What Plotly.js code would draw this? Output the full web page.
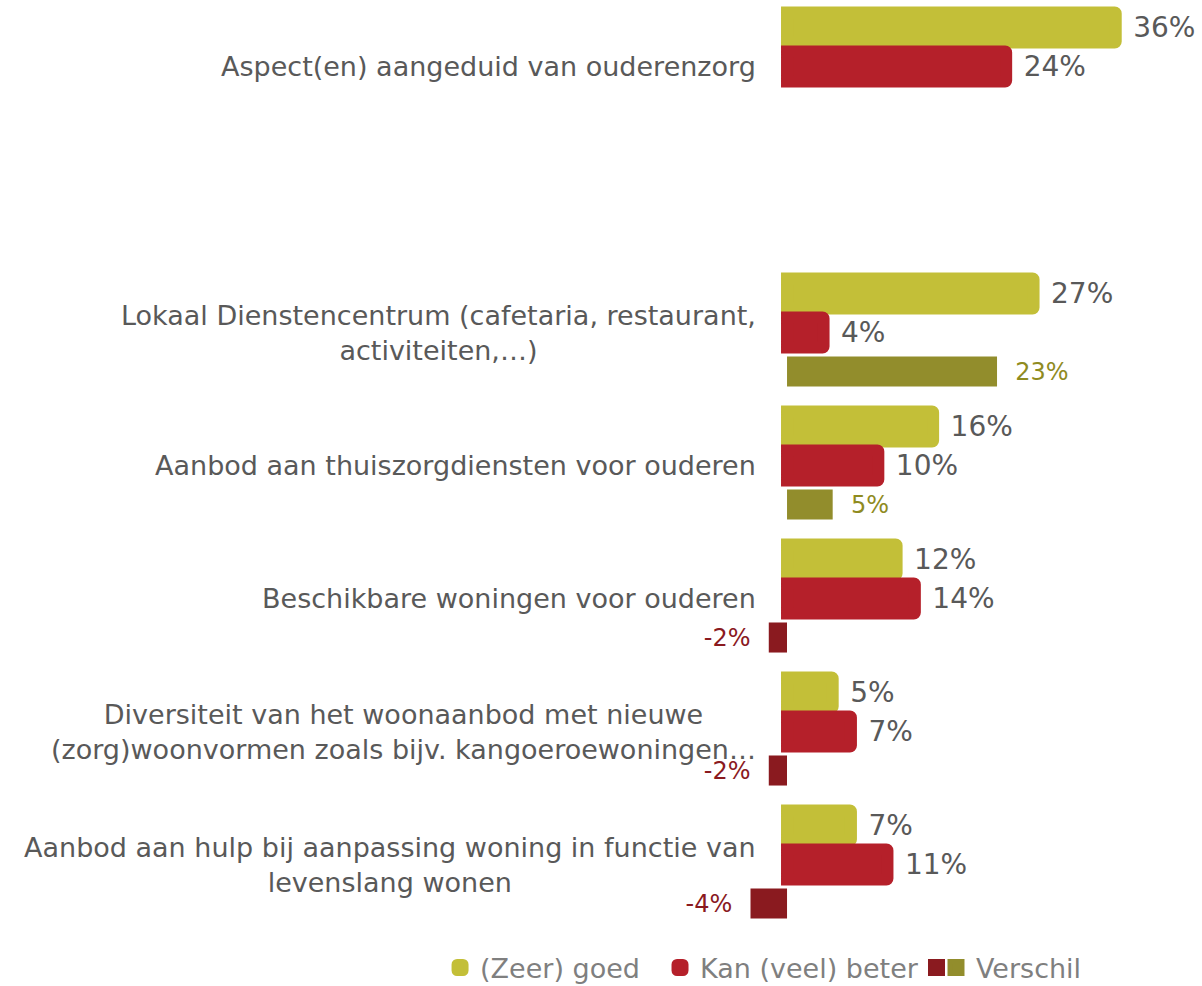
<!DOCTYPE html>
<html><head><meta charset="utf-8">
<script src="https://cdn.plot.ly/plotly-3.0.1.min.js"></script>
<style>html,body{margin:0;padding:0;background:#fff}</style>
</head><body><div id="chart" style="width:1202px;height:986px"></div>
<script>
// ---- data ----
const categories = [
  'Aspect(en) aangeduid van ouderenzorg',
  ' ',
  'Lokaal Dienstencentrum (cafetaria, restaurant,<br>activiteiten,…)',
  'Aanbod aan thuiszorgdiensten voor ouderen',
  'Beschikbare woningen voor ouderen',
  'Diversiteit van het woonaanbod met nieuwe<br>(zorg)woonvormen zoals bijv. kangoeroewoningen…',
  'Aanbod aan hulp bij aanpassing woning in functie van<br>levenslang wonen'
];
const goed     = [36, null, 27, 16, 12, 5, 7];
const beter    = [24, null, 4, 10, 14, 7, 11];
const verschil = [null, null, 23, 5, -2, -2, -4];
const seriesNames = ['(Zeer) goed', 'Kan (veel) beter', 'Verschil'];

// ---- styles ----
const C_GOED = '#C3BF38', C_BETER = '#B5202A', C_POS = '#928D2C', C_NEG = '#8A1A1F';
const T_POS = '#8F8B1F';
const LABEL = '#595959';
const NB = '\u00A0', THIN = '\u2009';
const FONT = '"DejaVu Sans", Verdana, sans-serif';

function txtRight(arr){ return arr.map(v => v == null ? '' : NB + THIN + v + '%'); }
function txtSigned(arr){ return arr.map(v => v == null ? '' : (v < 0 ? v + '%' + NB + NB : NB + NB + v + '%')); }
const isNeg = v => v != null && v < 0;

const traces = [
  {type:'bar', orientation:'h', name:seriesNames[0], y:categories, x:goed, legend:'legend',
   marker:{color:C_GOED, line:{color:C_GOED, width:12}, cornerradius:1},
   text:txtRight(goed), textposition:'outside', cliponaxis:false, constraintext:'none',
   textfont:{family:FONT, size:28, color:LABEL}, hoverinfo:'skip'},
  {type:'bar', orientation:'h', name:seriesNames[1], y:categories, x:beter, legend:'legend2',
   marker:{color:C_BETER, line:{color:C_BETER, width:12}, cornerradius:1},
   text:txtRight(beter), textposition:'outside', cliponaxis:false, constraintext:'none',
   textfont:{family:FONT, size:28, color:LABEL}, hoverinfo:'skip'},
  {type:'bar', orientation:'h', name:' ', x:[null], y:[null], xaxis:'x2', yaxis:'y2', legend:'legend3',
   marker:{color:C_NEG, line:{color:C_NEG, width:5}}, hoverinfo:'skip'},
  {type:'bar', orientation:'h', name:seriesNames[2], y:categories, x:verschil, legend:'legend4',
   marker:{color:verschil.map(v => isNeg(v) ? C_NEG : C_POS),
           line:{color:verschil.map(v => isNeg(v) ? C_NEG : C_POS),
                 width:verschil.map(v => v == null ? 5 : 0)}},
   text:txtSigned(verschil), textposition:'outside', cliponaxis:false, constraintext:'none',
   textfont:{family:FONT, size:24, color:verschil.map(v => isNeg(v) ? C_NEG : T_POS)},
   hoverinfo:'skip'}
];

const annotations = categories.filter(c => c.trim() !== '').map(c => ({
  xref:'paper', yref:'y', x:0.631, y:c, xanchor:'right', yanchor:'middle',
  text:c, showarrow:false, align:'center',
  font:{family:FONT, size:27, color:LABEL}
}));

function legendAt(x){
  return {orientation:'h', xref:'paper', yref:'paper', x:x, xanchor:'left', y:-0.0397, yanchor:'middle',
          font:{family:FONT, size:27, color:'#7F7F7F'}, bgcolor:'rgba(0,0,0,0)',
          itemclick:false, itemdoubleclick:false};
}

const layout = {
  width:1202, height:986,
  margin:{l:0, r:0, t:0, b:55, autoexpand:false},
  paper_bgcolor:'#fff', plot_bgcolor:'#fff',
  barmode:'group', bargap:0.12, bargroupgap:0.23,
  xaxis:{range:[-86.2, 45.45], visible:false, fixedrange:true},
  yaxis:{type:'category', categoryorder:'array', categoryarray:categories,
         autorange:'reversed', showticklabels:false, showgrid:false, zeroline:false,
         showline:false, ticks:''},
  xaxis2:{overlaying:'x', visible:false, range:[0,1]},
  yaxis2:{overlaying:'y', visible:false, range:[0,1]},
  showlegend:true,
  legend:legendAt(0.3661),
  legend2:legendAt(0.5491),
  legend3:legendAt(0.7625),
  legend4:legendAt(0.7787),
  annotations:annotations
};

Plotly.newPlot('chart', traces, layout, {displayModeBar:false, staticPlot:true});
</script>
</body></html>
